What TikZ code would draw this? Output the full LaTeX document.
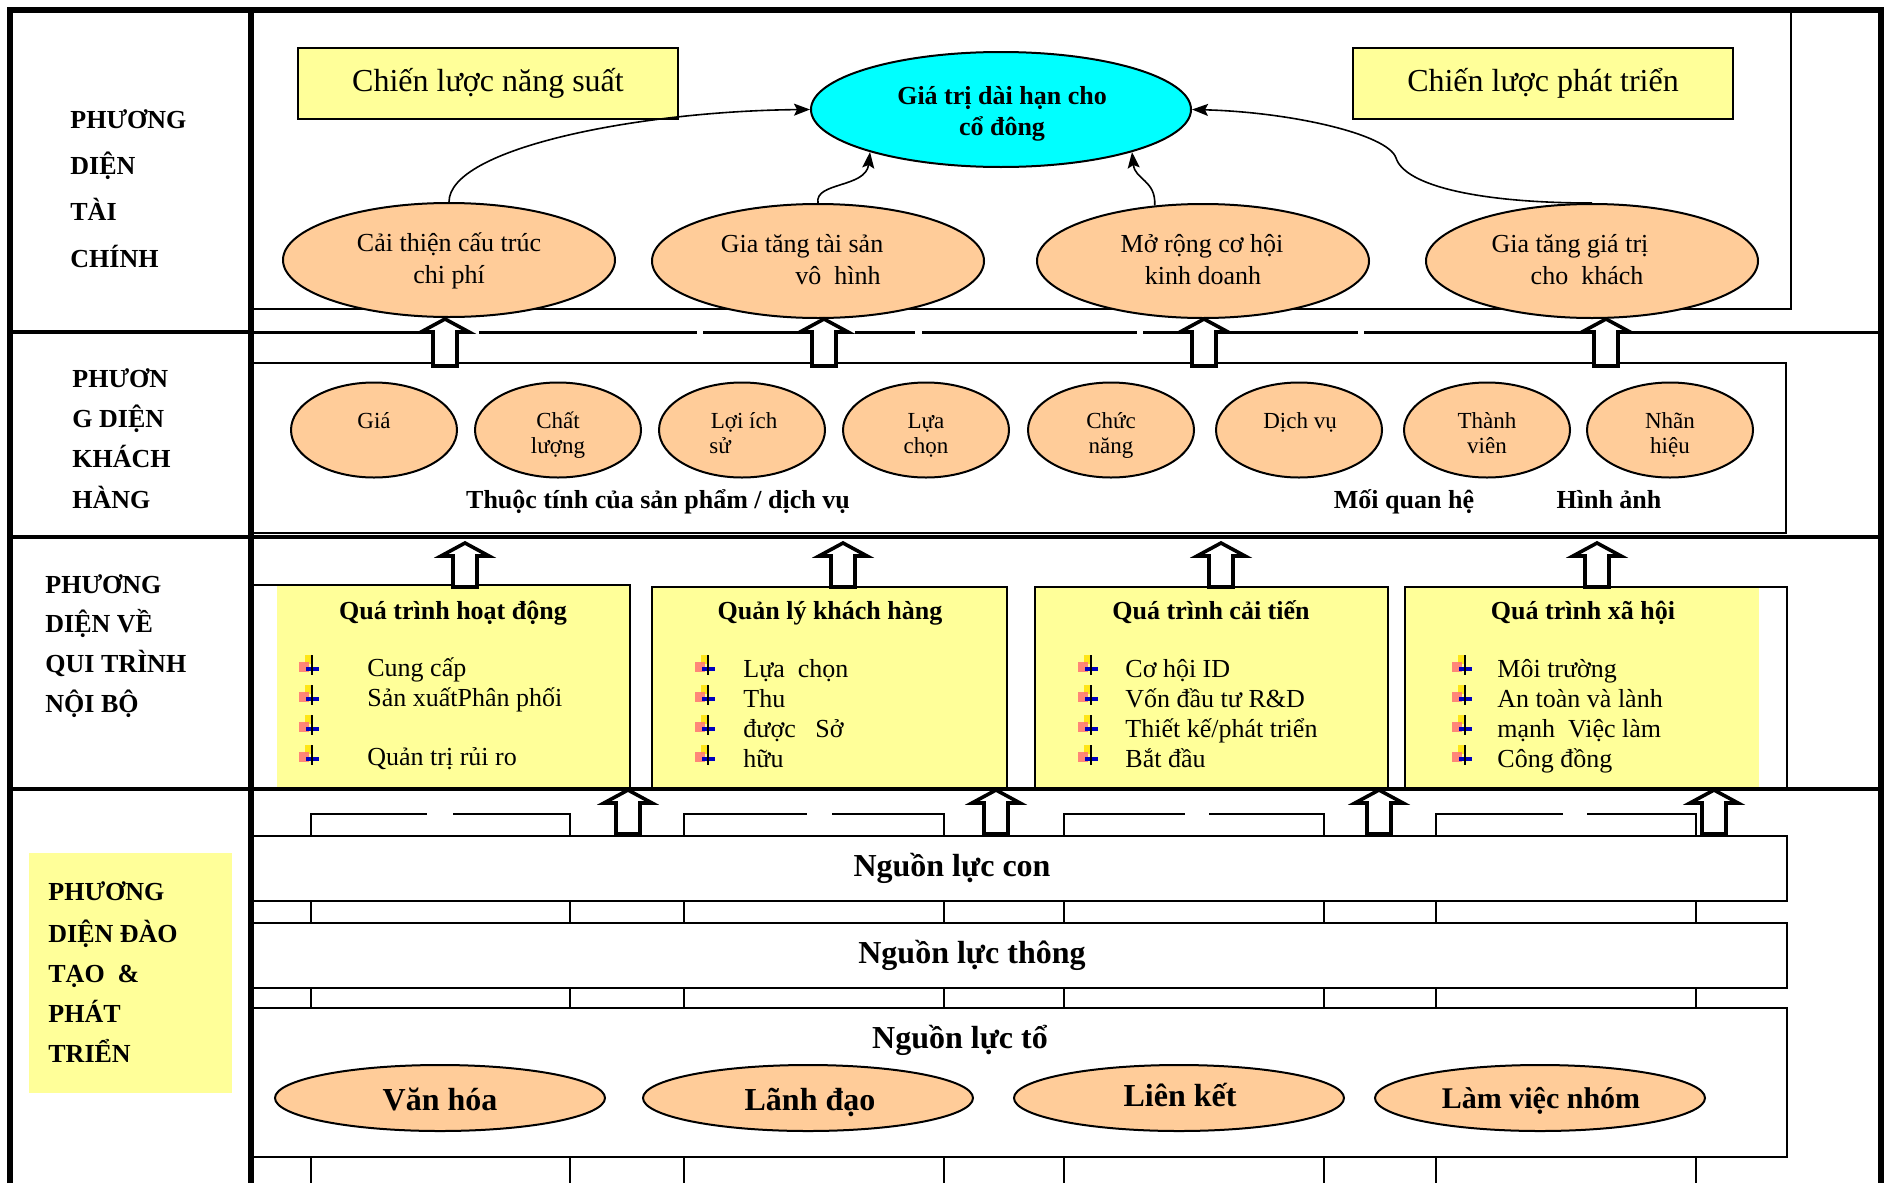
\documentclass[tikz,border=0pt]{standalone}
\usepackage{fontspec}
\setmainfont{Liberation Serif}
\usetikzlibrary{shapes.geometric,arrows.meta}
\definecolor{ylw}{HTML}{FFFF99}
\definecolor{org}{HTML}{FFCC99}
\definecolor{cyn}{HTML}{00FFFF}
\tikzset{
 frame/.style={line width=2.8pt},
 rowline/.style={line width=1.8pt},
 thinl/.style={line width=0.7pt},
 ybox/.style={draw, fill=ylw, line width=1.1pt, inner sep=0pt},
 oell/.style={ellipse, draw, fill=org, line width=1pt, inner sep=0pt},
 txt/.style={anchor=base, inner sep=0pt},
 ltxt/.style={anchor=base west, inner sep=0pt},
 r13/.style={font=\fontsize{13}{15}\selectfont},
 b13/.style={font=\bfseries\fontsize{13}{15}\selectfont},
 r115/.style={font=\fontsize{11.5}{14}\selectfont},
 r16/.style={font=\fontsize{16}{18}\selectfont},
 b16/.style={font=\bfseries\fontsize{16}{18}\selectfont},
 b15/.style={font=\bfseries\fontsize{15}{18}\selectfont},
 barrow/.style={draw, fill=white, line width=1.8pt, line join=miter},
 curvearr/.style={line width=0.8pt, -{Stealth[length=8pt,width=6pt,inset=1.5pt]}},
}
\newcommand\Ltxt[5][]{\node[ltxt,r13,#1] (#2) at (#3,#4) {#5};}
\newcommand\Ctxt[5][]{\node[txt,r13,#1] (#2) at (#3,#4) {#5};}
\newcommand\barr[3]{\draw[barrow] (#1,#2) -- (#1+24,#2+13) -- (#1+12,#2+13) -- (#1+12,#3) -- (#1-12,#3) -- (#1-12,#2+13) -- (#1-24,#2+13) -- cycle;}
\newcommand\bul[2]{%
 \fill[yellow!85!orange, opacity=0.85] (#1-6,#2-11) rectangle (#1+2,#2-2);
 \fill[red!55, opacity=0.85] (#1-12,#2-4) rectangle (#1-2,#2+6);
 \fill[blue!75!black] (#1-5,#2+1) rectangle (#1+8,#2+5);
 \fill[black] (#1,#2-11) rectangle (#1+2,#2+9);
}
\begin{document}
\begin{tikzpicture}[x=0.5pt,y=-0.5pt]
\useasboundingbox (0,0) rectangle (1888,1183);
\fill[white] (0,0) rectangle (1888,1183);

% ---------- inner frames ----------
\draw[thinl] (252,10) rectangle (1791,309);
\draw[thinl] (252,363) rectangle (1786,533);

% ---------- process boxes ----------
\fill[ylw] (277,586) rectangle (630,789);
\draw[thinl] (252,585) -- (630,585) -- (630,789);
\draw[thinl, fill=ylw] (652,587) rectangle (1007,789);
\draw[thinl, fill=ylw] (1035,587) rectangle (1388,789);
\fill[ylw] (1405,587) rectangle (1759,789);
\draw[thinl] (1405,789) -- (1405,587) -- (1787,587) -- (1787,789);

% ---------- learning bands and pillars ----------
\draw[thinl] (252,836) rectangle (1787,901);
\draw[thinl] (252,923) rectangle (1787,988);
\draw[thinl] (252,1008) rectangle (1787,1157);
\foreach \a/\b/\g/\h in {311/570/427/453, 684/944/807/832, 1064/1324/1185/1209, 1436/1696/1563/1587} {
 \draw[thinl] (\a,836) -- (\a,814) -- (\g,814) (\h,814) -- (\b,814) -- (\b,836);
 \foreach \x in {\a,\b} {\draw[thinl] (\x,901) -- (\x,923) (\x,988) -- (\x,1008) (\x,1157) -- (\x,1183);}
}

% ---------- main frame ----------
\draw[frame] (10,1183) -- (10,10) -- (1881,10) -- (1881,1183);
\draw[frame] (251,10) -- (251,1183);
\draw[rowline] (10,332) -- (251,332);
\draw[rowline] (10,537) -- (1881,537);
\draw[rowline] (10,789) -- (1881,789);
\foreach \a/\b in {252/424, 479/697, 703/806, 855/915, 922/1137, 1143/1181, 1225/1358, 1364/1580, 1630/1881}
 \draw[line width=1.5pt] (\a,332) -- (\b,332);

% ---------- left column labels ----------
\foreach \t/\y [count=\i] in {PHƯƠNG/128, DIỆN/174, TÀI/220, CHÍNH/267}
 \node[ltxt,b13] (fa\i) at (70,\y) {\t};
\foreach \t/\y [count=\i] in {PHƯƠN/387, G DIỆN/427, KHÁCH/467, HÀNG/508}
 \node[ltxt,b13] (cu\i) at (72,\y) {\t};
\foreach \t/\y [count=\i] in {PHƯƠNG/593, DIỆN VỀ/632, QUI TRÌNH/672, NỘI BỘ/712}
 \node[ltxt,b13] (pr\i) at (45,\y) {\t};
\fill[ylw] (29,853) rectangle (232,1093);
\foreach \t/\y [count=\i] in {PHƯƠNG/900, DIỆN ĐÀO/942, TẠO\ \ \&/982, PHÁT/1022, TRIỂN/1062}
 \node[ltxt,b13] (le\i) at (48,\y) {\t};

% ---------- financial row ----------
\node[ybox, minimum width=190pt, minimum height=35.5pt, r16] (s1) at (488,83.5) {Chiến lược năng suất};
\node[ybox, minimum width=190pt, minimum height=35.5pt, r16] (s2) at (1543,83.5) {Chiến lược phát triển};
\node[ellipse, draw, fill=cyn, line width=1pt, inner sep=0pt, minimum width=190pt, minimum height=57.5pt] (goal) at (1001,109.5) {};
\Ctxt[b13]{g1}{1002}{104}{Giá trị dài hạn cho}
\Ctxt[b13]{g2}{1002}{135}{cổ đông}

\node[oell, minimum width=166pt, minimum height=57pt] (f1) at (449,260) {};
\node[oell, minimum width=166pt, minimum height=57pt] (f2) at (818,261) {};
\node[oell, minimum width=166pt, minimum height=57pt] (f3) at (1203,261) {};
\node[oell, minimum width=166pt, minimum height=57pt] (f4) at (1592,261) {};
\Ctxt{f1a}{449}{251}{Cải thiện cấu trúc}
\Ctxt{f1b}{449}{283}{chi phí}
\Ctxt{f2a}{802}{252}{Gia tăng tài sản}
\Ctxt{f2b}{838}{284}{vô\ \ hình}
\Ctxt{f3a}{1202}{252}{Mở rộng cơ hội}
\Ctxt{f3b}{1203}{284}{kinh doanh}
\Ctxt{f4a}{1570}{252}{Gia tăng giá trị}
\Ctxt{f4b}{1587}{284}{cho\ \ khách}

\coordinate (bump) at (1396,158);
\draw[curvearr] (f1.north) .. controls (449,148) and (640,111) .. (goal.west);
\draw[curvearr] (f2.north) .. controls (814,182) and (866,188) .. (goal.198);
\draw[curvearr] (f3.131) .. controls (1156,180) and (1135,180) .. (goal.342);
\draw[curvearr] (f4.north) .. controls (1480,203) and (1405,186) .. (bump) .. controls (1388,134) and (1290,112) .. (goal.east);

% ---------- customer row ----------
\foreach \x [count=\i] in {374,558,742,926,1111,1299,1487,1670}
 \node[oell, minimum width=83pt, minimum height=47.5pt] (c\i) at (\x,430) {};
\Ctxt[r115]{c1a}{374}{428}{Giá}
\Ctxt[r115]{c2a}{558}{428}{Chất}
\Ctxt[r115]{c2b}{558}{453}{lượng}
\Ctxt[r115]{c3a}{744}{428}{Lợi ích}
\Ltxt[r115]{c3b}{709}{453}{sử}
\Ctxt[r115]{c4a}{926}{428}{Lựa}
\Ctxt[r115]{c4b}{926}{453}{chọn}
\Ctxt[r115]{c5a}{1111}{428}{Chức}
\Ctxt[r115]{c5b}{1111}{453}{năng}
\Ctxt[r115]{c6a}{1300}{428}{Dịch vụ}
\Ctxt[r115]{c7a}{1487}{428}{Thành}
\Ctxt[r115]{c7b}{1487}{453}{viên}
\Ctxt[r115]{c8a}{1670}{428}{Nhãn}
\Ctxt[r115]{c8b}{1670}{453}{hiệu}
\Ctxt[b13]{cl1}{658}{508}{Thuộc tính của sản phẩm / dịch vụ}
\Ctxt[b13]{cl2}{1404}{508}{Mối quan hệ}
\Ctxt[b13]{cl3}{1609}{508}{Hình ảnh}

% ---------- process row ----------
\Ctxt[b13]{p1}{453}{619}{Quá trình hoạt động}
\Ctxt[b13]{p2}{830}{619}{Quản lý khách hàng}
\Ctxt[b13]{p3}{1211}{619}{Quá trình cải tiến}
\Ctxt[b13]{p4}{1583}{619}{Quá trình xã hội}
\foreach \bx in {311,707,1090,1464}
 \foreach \y in {676,706,736,766} {\bul{\bx}{\y-10}}
\Ltxt{p1a}{367}{676}{Cung cấp}
\Ltxt{p1b}{367}{706}{Sản xuấtPhân phối}
\Ltxt{p1c}{367}{765}{Quản trị rủi ro}
\Ltxt{p2a}{743}{677}{Lựa\ \ chọn}
\Ltxt{p2b}{743}{707}{Thu}
\Ltxt{p2c}{743}{737}{được\ \ \ Sở}
\Ltxt{p2d}{743}{767}{hữu}
\Ltxt{p3a}{1125}{677}{Cơ hội ID}
\Ltxt{p3b}{1125}{707}{Vốn đầu tư R\&D}
\Ltxt{p3c}{1125}{737}{Thiết kế/phát triển}
\Ltxt{p3d}{1125}{767}{Bắt đầu}
\Ltxt{p4a}{1497}{677}{Môi trường}
\Ltxt{p4b}{1497}{707}{An toàn và lành}
\Ltxt{p4c}{1497}{737}{mạnh\ \ Việc làm}
\Ltxt{p4d}{1497}{767}{Công đồng}

% ---------- learning row ----------
\Ctxt[b16]{n1}{952}{876}{Nguồn lực con}
\Ctxt[b16]{n2}{972}{963}{Nguồn lực thông}
\Ctxt[b16]{n3}{960}{1048}{Nguồn lực tổ}
\node[oell, minimum width=165pt, minimum height=33pt] (l1) at (440,1098) {};
\node[oell, minimum width=165pt, minimum height=33pt] (l2) at (808,1098) {};
\node[oell, minimum width=165pt, minimum height=33pt] (l3) at (1179,1098) {};
\node[oell, minimum width=165pt, minimum height=33pt] (l4) at (1540,1098) {};
\Ctxt[b16]{l1t}{440}{1110}{Văn hóa}
\Ctxt[b16]{l2t}{810}{1110}{Lãnh đạo}
\Ctxt[b16]{l3t}{1180}{1106}{Liên kết}
\Ctxt[b15]{l4t}{1541}{1108}{Làm việc nhóm}

% ---------- block arrows ----------
\foreach \x in {445,824,1204,1606} {\barr{\x}{319}{366}}
\foreach \x in {465,843,1221,1597} {\barr{\x}{543}{587}}
\foreach \x in {628,996,1379,1714} {\barr{\x}{790}{834}}
\end{tikzpicture}
\end{document}
